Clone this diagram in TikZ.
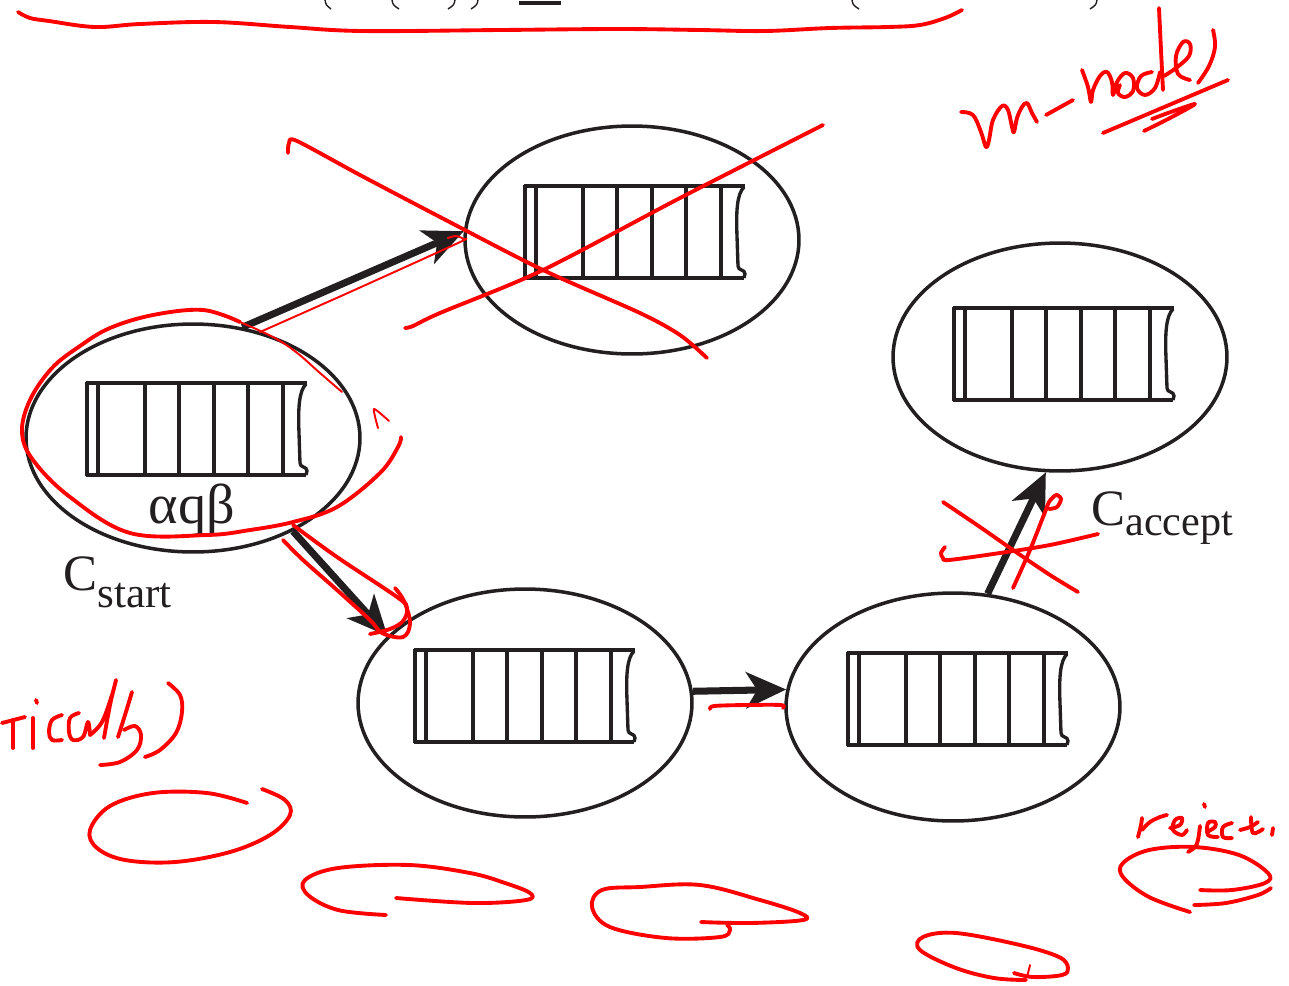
\documentclass[tikz,border=0pt]{standalone}
\usepackage{fontspec}
\setmainfont{Liberation Serif}
\usetikzlibrary{shapes.geometric,arrows.meta}
\definecolor{ink}{RGB}{35,31,32}
\definecolor{penred}{RGB}{255,0,0}
\begin{document}
\begin{tikzpicture}[x=0.02cm,y=-0.02cm,
  conf/.style={draw=ink, line width=2pt, ellipse, minimum width=6.68cm, minimum height=4.56cm, inner sep=0pt},
  move/.style={draw=ink, line width=4pt, -{Stealth[length=0.8cm,width=0.72cm,inset=0.22cm]}},
  lbl/.style={text=ink, inner sep=0pt},
  redpen/.style={draw=penred, line width=2.2pt, line cap=round, line join=round},
  thinpen/.style={draw=penred, line width=1.1pt, line cap=round, line join=round},
  frag/.style={draw=ink, line width=0.8pt},
  tapeh/.style={draw=ink, line width=2.8pt},
  tapev/.style={draw=ink, line width=1.9pt},
  tape/.pic={
    \draw[tapev] (0,-1) -- (0,93) (11,0) -- (11,93) (58,0) -- (58,93) (92,0) -- (92,93)
                 (127,0) -- (127,93) (161,0) -- (161,93) (196,0) -- (196,93);
    \draw[tapeh] (-1,0) -- (220,0) (-1,92) -- (219,92);
    \draw[tapev] (219,1) .. controls (212,8) and (211,25) .. (212,50) -- (213,80)
                 .. controls (213,85) and (220,83) .. (220,88) -- (219,92);
  }
]
\useasboundingbox (0,0) rectangle (1289,985);
\fill[white] (0,0) rectangle (1289,985);

% cut-off fragments at the top edge
\draw[frag] (325,0) .. controls (326,5) .. (331,9);
\draw[frag] (392,0) .. controls (393,5) .. (399,9);
\draw[frag] (455,0) .. controls (454,5) .. (448,9);
\draw[frag] (478,0) .. controls (477,5) .. (471,9);
\draw[draw=ink, line width=2.4pt] (519,3) -- (561,3);
\draw[frag] (852,0) .. controls (853,5) .. (859,9);
\draw[frag] (1097,0) .. controls (1096,5) .. (1090,9);

% configurations
\node[conf] (s)  at (193,438) {};
\node[conf] (t)  at (632,240) {};
\node[conf] (b1) at (525,703) {};
\node[conf] (b2) at (953,707) {};
\node[conf] (a)  at (1060,357) {};

\pic at (87,383) {tape};
\pic at (525,186) {tape};
\pic at (954,308) {tape};
\pic at (415,650) {tape};
\pic at (848,653) {tape};

\node[lbl, anchor=base] (q) at (192,523) {\fontsize{32}{32}\selectfont αqβ};
\node[lbl, anchor=base west] (cs) at (63,590) {\fontsize{29}{29}\selectfont C\raisebox{-10pt}{\fontsize{24.5}{24.5}\selectfont start}};
\node[lbl, anchor=base west] (ca) at (1091,525) {\fontsize{29}{29}\selectfont C\raisebox{-6pt}{\fontsize{24}{24}\selectfont accept}};

\draw[move] (s.66) -- (t.177);
\draw[move] (s.-43) -- (b1.154);
\draw[move] (b1.4) -- (b2.174);
\draw[move] (b2.73) -- (a.-97);

% ---- red handwriting ----
% brace at the top
\draw[redpen] plot[smooth, tension=0.6] coordinates {(18,12) (30,18) (49,21) (95,27) (140,24) (214,22) (290,27) (362,31) (500,30) (617,29) (700,30) (765,31) (830,28) (888,27) (920,25) (945,18) (962,10)};
% m-nodes
\draw[redpen] plot[smooth, tension=0.6] coordinates {(961,112) (973,115) (981,132) (986,147) (989,140) (993,120) (1002,106) (1008,110) (1012,127) (1014,132) (1017,118) (1022,107) (1027,103) (1032,113) (1037,122)};
\draw[redpen] (1046,115) -- (1073,100);
\draw[redpen] plot[smooth, tension=0.6] coordinates {(1082,70) (1088,87) (1091,102) (1093,90) (1100,76) (1107,72) (1112,82) (1113,95) (1117,82) (1125,73) (1133,78) (1133,91) (1125,97) (1118,93) (1120,85)};
\draw[redpen] plot[smooth, tension=0.6] coordinates {(1152,72) (1141,76) (1137,88) (1145,95) (1155,88) (1160,72)};
\draw[redpen] plot[smooth, tension=0.6] coordinates {(1159,8) (1161,50) (1163,90)};
\draw[redpen] plot[smooth, tension=0.6] coordinates {(1164,76) (1176,68) (1189,56) (1190,44) (1183,42) (1176,56) (1178,74) (1190,80)};
\draw[redpen] plot[smooth, tension=0.6] coordinates {(1213,30) (1215,47) (1209,66) (1198,83)};
\draw[redpen] (1103,133) -- (1228,80);
\draw[redpen] plot[smooth, tension=0.5] coordinates {(1144,131) (1170,118) (1195,104) (1168,113) (1152,119)};
% big cross over the upper configuration
\draw[redpen] plot[smooth, tension=0.5] coordinates {(288,153) (289,143) (297,141) (360,175) (440,217) (543,270) (640,313) (680,335) (707,358)};
\draw[redpen] plot[smooth, tension=0.5] coordinates {(405,328) (413,326) (440,313) (543,270) (680,198) (823,125)};
% thin line along the upper arrow
\draw[thinpen] plot[smooth, tension=0.5] coordinates {(260,332) (350,292) (458,243) (463,239) (456,236) (448,238)};
% loop round the start configuration
\draw[thinpen] plot[smooth, tension=0.6] coordinates {(342,392) (320,373) (296,352) (273,337) (240,322)};
\draw[redpen] plot[smooth, tension=0.6] coordinates {(240,322) (203,310) (153,315) (110,328) (80,346) (52,368) (30,400) (22,432) (33,460) (70,497) (130,533) (207,535) (250,530) (293,522) (337,507) (380,473) (398,447) (401,437)};
\draw[thinpen] plot[smooth, tension=0.4] coordinates {(378,428) (374,409) (389,421)};
% outline of the lower-left arrow
\draw[redpen] plot[smooth, tension=0.6] coordinates {(283,540) (303,560) (337,590) (370,620) (382,633) (403,637) (410,623) (404,601) (395,588)};
\draw[redpen] plot[smooth, tension=0.6] coordinates {(293,525) (337,557) (397,597) (407,608) (403,621) (390,629) (370,634)};
% underline of the horizontal arrow
\draw[redpen] plot[smooth, tension=0.5] coordinates {(710,709) (714,706) (745,705) (781,705) (783,708)};
% cross at the accept arrow
\draw[redpen] plot[smooth, tension=0.5] coordinates {(943,502) (980,527) (1013,550) (1050,575) (1078,592)};
\draw[redpen] plot[smooth, tension=0.5] coordinates {(945,547) (941,553) (943,558) (949,560) (1000,553) (1050,545) (1098,534)};
\draw[redpen] plot[smooth, tension=0.5] coordinates {(1013,588) (1030,550) (1045,512) (1049,502) (1056,495) (1061,499) (1057,507) (1049,509)};
% Ticcally)
\draw[redpen] (2,723) -- (25,717);
\draw[redpen] (13,720) -- (13,748);
\draw[redpen] (36,700) -- (37,703);
\draw[redpen] (33,718) -- (33,748);
\draw[redpen] plot[smooth, tension=0.6] coordinates {(62,715) (52,720) (49,732) (52,740) (62,740)};
\draw[redpen] plot[smooth, tension=0.6] coordinates {(79,713) (70,718) (69,732) (73,740) (83,737) (88,722) (90,735)};
\draw[redpen] plot[smooth, tension=0.6] coordinates {(90,735) (102,722) (112,695) (116,680) (110,705) (104,738)};
\draw[redpen] plot[smooth, tension=0.6] coordinates {(132,692) (125,715) (118,737)};
\draw[redpen] plot[smooth, tension=0.6] coordinates {(124,730) (135,726) (141,735) (137,750) (120,762) (100,765)};
\draw[redpen] plot[smooth, tension=0.6] coordinates {(168,683) (180,695) (182,712) (176,733) (160,750) (145,757)};
% ovals at the bottom
\draw[redpen] plot[smooth, tension=0.6] coordinates {(247,803) (207,793) (153,793) (110,806) (90,830) (97,848) (125,860) (175,862) (230,852) (270,835) (290,815) (285,800) (262,789)};
\draw[redpen] plot[smooth, tension=0.6] coordinates {(386,915) (338,910) (308,895) (305,880) (338,868) (409,865) (470,873) (505,883) (530,893) (526,900) (473,903) (396,898)};
\draw[redpen] plot[smooth, tension=0.6] coordinates {(701,922) (750,923) (803,920) (800,913) (760,900) (700,885) (640,887) (602,890) (592,907) (610,927) (666,938) (720,937) (730,930) (727,925)};
\draw[redpen] plot[smooth, tension=0.6] coordinates {(1014,973) (1033,977) (1062,975) (1068,968) (1059,957) (1020,945) (956,933) (923,937) (920,950) (956,968) (994,978) (1026,980)};
\draw[thinpen] (1030,965) -- (1027,977);
\draw[redpen] plot[smooth, tension=0.6] coordinates {(1190,912) (1149,897) (1123,877) (1123,863) (1149,850) (1194,847) (1239,855) (1268,873) (1265,883) (1232,890) (1200,890)};
\draw[redpen] plot[smooth, tension=0.6] coordinates {(1194,905) (1226,903) (1258,895) (1271,888)};
% reject.
\draw[redpen] plot[smooth, tension=0.6] coordinates {(1138,837) (1141,825) (1142,818)};
\draw[redpen] plot[smooth, tension=0.6] coordinates {(1142,830) (1150,822) (1160,817) (1167,815)};
\draw[redpen] plot[smooth, tension=0.6] coordinates {(1170,828) (1180,825) (1182,818) (1175,820) (1173,830) (1182,835) (1187,830)};
\draw[redpen] plot[smooth, tension=0.6] coordinates {(1200,826) (1198,840) (1195,847) (1188,852)};
\draw[redpen] (1204,804) -- (1205,807);
\draw[redpen] plot[smooth, tension=0.6] coordinates {(1207,832) (1215,827) (1215,822) (1208,823) (1208,835) (1218,837)};
\draw[redpen] plot[smooth, tension=0.6] coordinates {(1232,823) (1223,827) (1223,837) (1232,838)};
\draw[redpen] plot[smooth, tension=0.6] coordinates {(1240,830) (1250,827) (1258,822)};
\draw[redpen] plot[smooth, tension=0.6] coordinates {(1251,817) (1253,833) (1263,829)};
\draw[redpen] (1273,828) -- (1272,835);
\end{tikzpicture}
\end{document}
